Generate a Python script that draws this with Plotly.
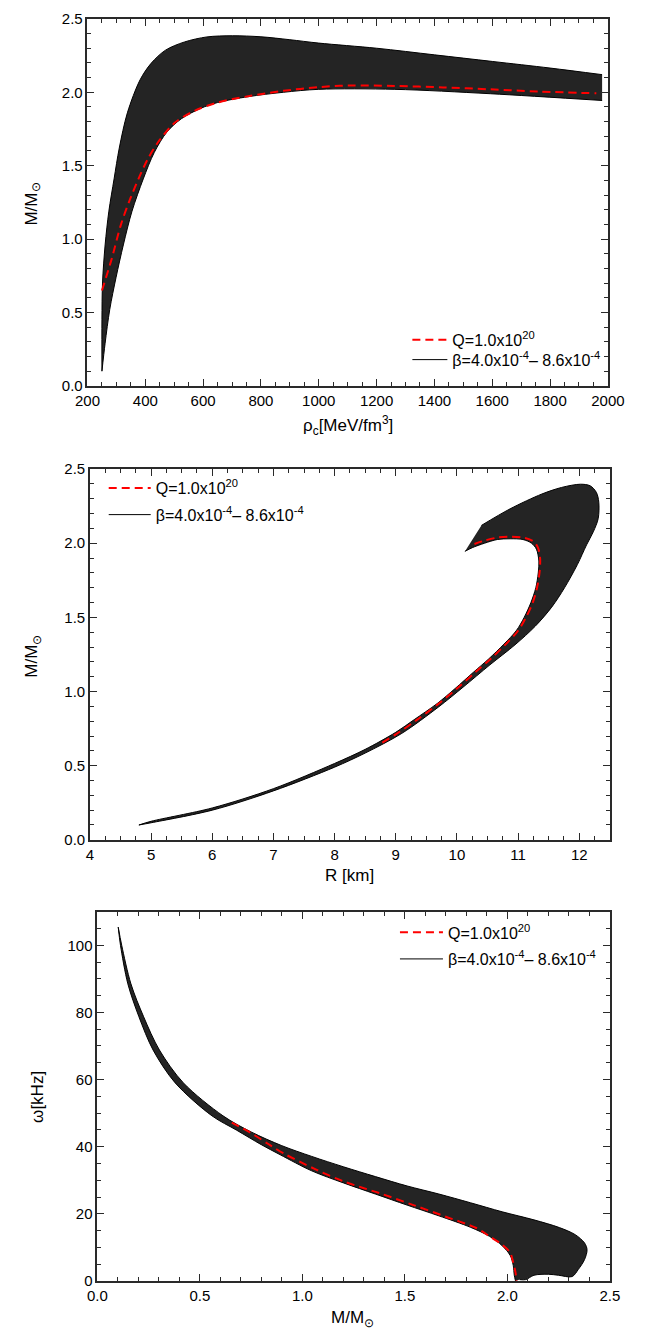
import plotly.graph_objects as go

# ---------------- data ----------------
# Panel 1: M/Msun vs central density rho_c [MeV/fm^3]
rho_q = [250, 283, 316, 349, 382, 409, 448, 503, 569, 646, 756, 878, 1000, 1100, 1263, 1430, 1594, 1760, 1960]
m_q_rho = [0.65, 0.86, 1.10, 1.28, 1.435, 1.547, 1.67, 1.794, 1.872, 1.928, 1.973, 2.01, 2.035, 2.046, 2.043, 2.033, 2.02, 2.005, 1.993]

rho_beta_hi = [250, 250, 252, 261, 274, 292, 310, 338, 382, 420, 470, 536, 613, 701, 800, 900, 1000, 1200, 1400, 1600, 1800, 1980]
m_beta_hi_rho = [0.10, 0.45, 0.70, 0.96, 1.19, 1.41, 1.62, 1.86, 2.085, 2.197, 2.287, 2.343, 2.377, 2.385, 2.378, 2.358, 2.335, 2.30, 2.255, 2.21, 2.165, 2.12]

rho_beta_lo = [250, 261, 277, 299, 324, 354, 393, 431, 475, 525, 591, 650, 756, 878, 1000, 1263, 1594, 1980]
m_beta_lo_rho = [0.10, 0.29, 0.52, 0.74, 0.96, 1.19, 1.41, 1.59, 1.73, 1.82, 1.89, 1.93, 1.97, 2.0, 2.02, 2.02, 1.99, 1.944]

# Panel 2: M/Msun vs R [km]
r_q = [8.78, 9.0, 9.34, 9.7, 10.0, 10.3, 10.55, 10.8, 11.0, 11.13, 11.24, 11.31, 11.35, 11.36, 11.32, 11.24, 11.08, 10.87, 10.66, 10.43, 10.22]
m_q_r = [0.656, 0.711, 0.807, 0.918, 1.02, 1.13, 1.22, 1.32, 1.41, 1.50, 1.60, 1.70, 1.80, 1.90, 1.975, 2.015, 2.038, 2.044, 2.038, 2.015, 1.985]

r_beta_lo = [4.8, 5.0, 6.0, 7.0, 8.0, 8.5, 9.0, 9.3, 9.68, 9.97, 10.27, 10.52, 10.77, 10.97, 11.1, 11.21, 11.29, 11.33, 11.34, 11.3, 11.22, 11.08, 10.87, 10.66, 10.45, 10.25, 10.13]
m_beta_lo_r = [0.10, 0.125, 0.215, 0.345, 0.515, 0.61, 0.725, 0.81, 0.92, 1.02, 1.13, 1.22, 1.32, 1.41, 1.50, 1.60, 1.70, 1.80, 1.88, 1.96, 2.0, 2.025, 2.03, 2.025, 2.0, 1.97, 1.945]

r_beta_hi = [4.8, 5.0, 6.0, 7.0, 8.0, 8.5, 9.1, 9.7, 10.1, 10.54, 10.95, 11.28, 11.55, 11.76, 11.97, 12.12, 12.23, 12.31, 12.32, 12.28, 12.18, 12.02, 11.71, 11.39, 10.87, 10.40]
m_beta_hi_r = [0.10, 0.115, 0.20, 0.33, 0.49, 0.585, 0.718, 0.896, 1.029, 1.18, 1.315, 1.44, 1.569, 1.70, 1.856, 1.989, 2.077, 2.166, 2.277, 2.343, 2.387, 2.398, 2.376, 2.332, 2.232, 2.12]

# Panel 3: omega [kHz] vs M/Msun
m_q_w = [0.656, 0.757, 0.834, 0.907, 1.07, 1.209, 1.379, 1.542, 1.697, 1.851, 1.913, 1.975, 2.014, 2.029, 2.04, 2.045]
w_q = [47.2, 43.8, 40.8, 38.05, 33.1, 29.5, 26.1, 22.6, 19.2, 15.7, 13.3, 10.8, 8.4, 5.4, 2.5, 0.0]

m_beta_hi_w = [0.102, 0.119, 0.164, 0.226, 0.303, 0.42, 0.613, 0.75, 0.90, 1.046, 1.201, 1.356, 1.511, 1.666, 1.82, 1.975, 2.13, 2.254, 2.331, 2.377, 2.389, 2.377, 2.346, 2.316]
w_beta_hi = [105.4, 100, 88.5, 78.7, 68.8, 59.0, 49.2, 44.4, 40.3, 37.1, 34.0, 31.1, 28.3, 25.9, 23.3, 20.6, 18.2, 15.9, 13.8, 11.3, 9.3, 6.4, 3.4, 1.3]

m_beta_bottom_w = [2.25, 2.2, 2.13, 2.09, 2.06]
w_beta_bottom = [1.7, 2.0, 1.7, 0.4, 0.4]

m_beta_lo_w = [0.102, 0.113, 0.149, 0.203, 0.272, 0.38, 0.559, 0.68, 0.80, 0.892, 1.046, 1.201, 1.356, 1.511, 1.666, 1.82, 1.913, 1.975, 2.014, 2.029, 2.034, 2.04]
w_beta_lo = [105.4, 100, 88.5, 78.7, 68.8, 59.0, 49.2, 44.9, 40.6, 37.6, 32.8, 29.2, 25.9, 22.6, 19.4, 16.0, 13.3, 10.5, 7.6, 4.6, 1.7, 0.0]

# Tick labels
rho_ticks = [200, 400, 600, 800, 1000, 1200, 1400, 1600, 1800, 2000]
r_ticks = [4, 5, 6, 7, 8, 9, 10, 11, 12]
m_ticks = [0.0, 0.5, 1.0, 1.5, 2.0, 2.5]
w_ticks = [0, 20, 40, 60, 80, 100]

Q_LABEL = "Q=1.0x10<sup>20</sup>"
BETA_LABEL = "β=4.0x10<sup>-4</sup>– 8.6x10<sup>-4</sup>"

# ---------------- styling ----------------
W, H = 665, 1340
FONT = "Liberation Sans, Arial, Helvetica, sans-serif"
AXC = "#2a2a2a"
RED = "#ff0000"
BAND = "#242424"
SMOOTH = 0.9


def fx(p):
    return p / W


def fy(p):
    return 1 - p / H


fig = go.Figure()


def add_panel(n, x_hi, y_hi, x_lo, y_lo, x_q, y_q, leg_q, leg_b, x_extra=None, y_extra=None):
    xa = "x" if n == 1 else f"x{n}"
    ya = "y" if n == 1 else f"y{n}"
    # lowest-beta boundary (also carries the legend entry)
    fig.add_trace(go.Scatter(x=x_lo, y=y_lo, mode="lines",
                             line=dict(color="black", width=1, shape="spline", smoothing=SMOOTH),
                             name=BETA_LABEL, legend=leg_b, hoverinfo="skip", xaxis=xa, yaxis=ya))
    # highest-beta boundary, band filled between the two
    fig.add_trace(go.Scatter(x=list(x_hi) + (list(x_extra) if x_extra else []),
                             y=list(y_hi) + (list(y_extra) if y_extra else []),
                             mode="lines", fill="tonexty", fillcolor=BAND,
                             line=dict(color="black", width=1, shape="spline", smoothing=SMOOTH),
                             showlegend=False, hoverinfo="skip", xaxis=xa, yaxis=ya))
    fig.add_trace(go.Scatter(x=x_q, y=y_q, mode="lines",
                             line=dict(color=RED, width=2, dash="8px,5px", shape="spline", smoothing=SMOOTH),
                             name=Q_LABEL, legend=leg_q, xaxis=xa, yaxis=ya))


add_panel(1, rho_beta_hi, m_beta_hi_rho, rho_beta_lo, m_beta_lo_rho, rho_q, m_q_rho, "legend", "legend2")
add_panel(2, r_beta_hi, m_beta_hi_r, r_beta_lo, m_beta_lo_r, r_q, m_q_r, "legend3", "legend4")
add_panel(3, m_beta_hi_w, w_beta_hi, m_beta_lo_w, w_beta_lo, m_q_w, w_q, "legend5", "legend6",
          m_beta_bottom_w, w_beta_bottom)


def axis(domain, rng, ticks, ticktext, minor_dtick, anchor):
    return dict(domain=domain, range=rng, anchor=anchor, tickmode="array", tickvals=ticks,
                ticktext=ticktext, showgrid=False, zeroline=False, showline=True,
                linecolor=AXC, linewidth=1.6, mirror="allticks", ticks="inside", ticklen=7,
                tickwidth=1, tickcolor=AXC,
                tickfont=dict(family=FONT, size=15, color="black"),
                minor=dict(dtick=minor_dtick, ticks="inside", ticklen=4, tickwidth=1,
                           tickcolor=AXC, showgrid=False))


def leg(px, py, iw):
    return dict(x=fx(px), y=fy(py), xanchor="left", yanchor="top", bgcolor="rgba(0,0,0,0)",
                font=dict(family=FONT, size=16, color="black"), itemwidth=iw, tracegroupgap=0)


mlabels = [f"{v:.1f}" for v in m_ticks]

fig.update_layout(
    width=W, height=H, margin=dict(l=0, r=0, t=0, b=0),
    paper_bgcolor="white", plot_bgcolor="white",
    font=dict(family=FONT, color="black"),
    xaxis=axis([fx(78), fx(623)], [200, 2000], rho_ticks, [str(v) for v in rho_ticks], 50, "y"),
    yaxis=axis([fy(381.7), fy(10)], [0, 2.5], m_ticks, mlabels, 0.1, "x"),
    xaxis2=axis([fx(80.6), fx(625)], [4, 12.5], r_ticks, [str(v) for v in r_ticks], 0.25, "y2"),
    yaxis2=axis([fy(841.5), fy(466)], [0, 2.5], m_ticks, mlabels, 0.1, "x2"),
    xaxis3=axis([fx(88.3), fx(625)], [0, 2.5], m_ticks, mlabels, 0.1, "y3"),
    yaxis3=axis([fy(1288.3), fy(914.3)], [0, 110], w_ticks, [str(v) for v in w_ticks], 5, "x3"),
    legend=leg(413, 318, 35),
    legend2=leg(413, 338, 35),
    legend3=leg(95, 468, 42),
    legend4=leg(95, 495, 42),
    legend5=leg(400, 918, 43),
    legend6=leg(400, 945, 43),
    showlegend=True,
)

TF = dict(family=FONT, size=17, color="black")
ann = [
    ("ρ<sub>c</sub>[MeV/fm<sup>3</sup>]", 350.5, 422, 0),
    ("M/M<sub>⊙</sub>", 21, 198, -90),
    ("R [km]", 352.8, 878, 0),
    ("M/M<sub>⊙</sub>", 21, 656, -90),
    ("M/M<sub>⊙</sub>", 356, 1327, 0),
    ("ω[kHz]", 25, 1102, -90),
]
for text, px, py, ang in ann:
    fig.add_annotation(text=text, x=fx(px), y=fy(py), xref="paper", yref="paper",
                       xanchor="center", yanchor="middle", showarrow=False, textangle=ang, font=TF)

fig.write_html("out.html")
